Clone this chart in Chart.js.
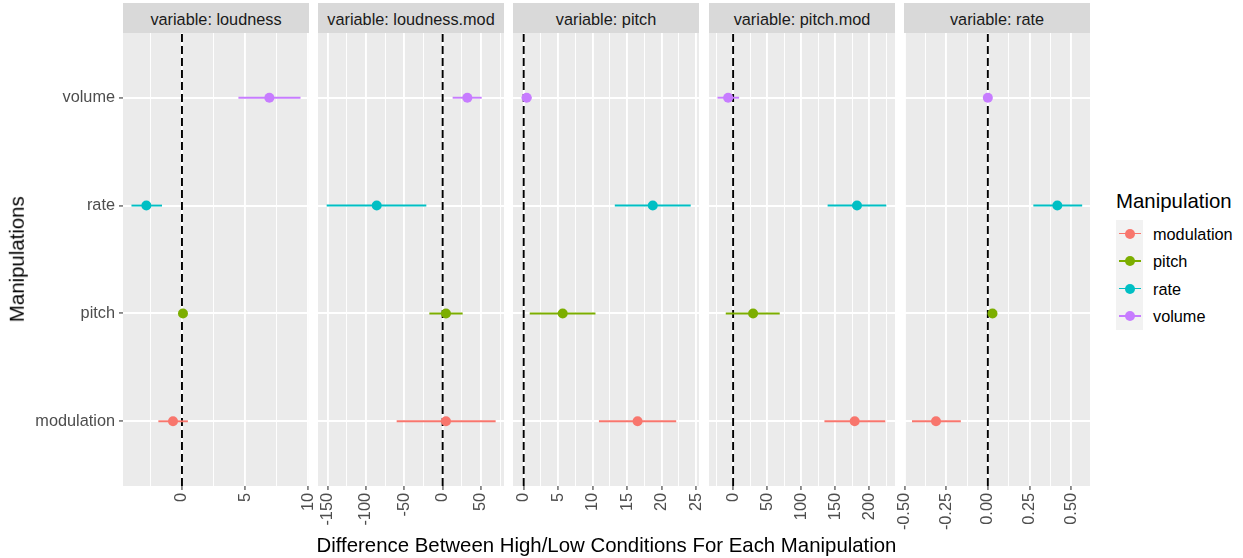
<!DOCTYPE html>
<html>
<head>
<meta charset="utf-8">
<script src="https://cdn.jsdelivr.net/npm/chart.js@4.4.1/dist/chart.umd.min.js"></script>
<style>
  body { margin: 0; background: #fff; font-family: "Liberation Sans", Arial, sans-serif; }
  #plot { position: relative; width: 1243px; height: 558px; overflow: hidden; }
  #plot canvas, .strip, .txt, .keys, .key-line, .key-dot { position: absolute; }
  .strip { top: 3px; height: 30px; background: #D9D9D9; color: #1A1A1A; font-size: 16.3px;
           line-height: 32.5px; text-align: center; white-space: nowrap; }
  .txt { white-space: nowrap; line-height: 1; }
  .keys { background: #F2F2F2; }
  .key-line { height: 1.9px; }
  .key-dot { width: 10px; height: 10px; border-radius: 50%; }
</style>
</head>
<body>
<div id="plot"></div>
<script>
const FUENTE = '"Liberation Sans", Arial, sans-serif';

// orden: modulation, pitch, rate, volume
const manipulations = ['modulation', 'pitch', 'rate', 'volume'];
const colores = ['#F8766D', '#7CAE00', '#00BFC4', '#C77CFF'];
const variables = ['loudness', 'loudness.mod', 'pitch', 'pitch.mod', 'rate'];

const loudnessEst  = [-0.71, 0.08, -2.82, 6.92];
const loudnessLow  = [-1.87, -0.1, -4.0, 4.47];
const loudnessHigh = [0.47, 0.25, -1.58, 9.39];

const loudnessModEst  = [4.3, 4.3, -86, 32.2];
const loudnessModLow  = [-60, -17.4, -151.3, 13];
const loudnessModHigh = [69.1, 26.1, -21.3, 50.9];

const pitchEst  = [16.5, 5.65, 18.7, 0.43];
const pitchLow  = [10.9, 0.87, 13.2, -0.3];
const pitchHigh = [22.1, 10.4, 24.2, 1.15];

const pitchModEst  = [178.4, 29.3, 181.8, -7.3];
const pitchModLow  = [134, -10.8, 138.7, -23];
const pitchModHigh = [223.4, 68.4, 224.8, 8.8];

const rateEst  = [-0.311, 0.028, 0.417, 0.0];
const rateLow  = [-0.455, 0.01, 0.273, -0.02];
const rateHigh = [-0.162, 0.045, 0.566, 0.02];

const loudnessTicks = [0, 5, 10];
const loudnessTickLabels = ['0', '5', '10'];
const loudnessModTicks = [-150, -100, -50, 0, 50];
const loudnessModTickLabels = ['-150', '-100', '-50', '0', '50'];
const pitchTicks = [0, 5, 10, 15, 20, 25];
const pitchTickLabels = ['0', '5', '10', '15', '20', '25'];
const pitchModTicks = [0, 50, 100, 150, 200];
const pitchModTickLabels = ['0', '50', '100', '150', '200'];
const rateTicks = [-0.5, -0.25, 0, 0.25, 0.5];
const rateTickLabels = ['-0.50', '-0.25', '0.00', '0.25', '0.50'];

// limites de cada eje x
const loudnessRange = [-4.67, 10.06];
const loudnessModRange = [-162.6, 80];
const pitchRange = [-1.55, 25.4];
const pitchModRange = [-35.4, 237.6];
const rateRange = [-0.503, 0.613];

const paneles = [
    { est: loudnessEst, low: loudnessLow, high: loudnessHigh, ticks: loudnessTicks, labels: loudnessTickLabels, rango: loudnessRange },
    { est: loudnessModEst, low: loudnessModLow, high: loudnessModHigh, ticks: loudnessModTicks, labels: loudnessModTickLabels, rango: loudnessModRange },
    { est: pitchEst, low: pitchLow, high: pitchHigh, ticks: pitchTicks, labels: pitchTickLabels, rango: pitchRange },
    { est: pitchModEst, low: pitchModLow, high: pitchModHigh, ticks: pitchModTicks, labels: pitchModTickLabels, rango: pitchModRange },
    { est: rateEst, low: rateLow, high: rateHigh, ticks: rateTicks, labels: rateTickLabels, rango: rateRange }
];

const panelLeft = [123, 318, 513, 709, 904];
const PANEL_W = 186;
const PANEL_TOP = 33;
const PANEL_H = 453;
const AXIS_H = 70;
const MARGEN = 12;
const Y_MIN = 0.4;
const Y_MAX = 4.6;

const plot = document.getElementById('plot');

const fondoPanel = {
    id: 'fondoPanel',
    beforeDraw(chart) {
        const a = chart.chartArea;
        chart.ctx.save();
        chart.ctx.fillStyle = '#EBEBEB';
        chart.ctx.fillRect(a.left, a.top, a.right - a.left, a.bottom - a.top);
        chart.ctx.restore();
    }
};

function agregarTexto(texto, estilo) {
    const d = document.createElement('div');
    d.className = 'txt';
    d.textContent = texto;
    d.style.cssText += estilo;
    plot.appendChild(d);
    return d;
}

function crearPanel(p, idx) {
    const primero = idx === 0;
    const izq = primero ? 0 : panelLeft[idx] - MARGEN;
    const ancho = primero ? panelLeft[idx] + PANEL_W + MARGEN : PANEL_W + 2 * MARGEN;

    const strip = document.createElement('div');
    strip.className = 'strip';
    strip.style.left = panelLeft[idx] + 'px';
    strip.style.width = PANEL_W + 'px';
    strip.textContent = 'variable: ' + variables[idx];
    plot.appendChild(strip);

    const canvas = document.createElement('canvas');
    canvas.width = ancho;
    canvas.height = PANEL_H + AXIS_H;
    canvas.style.left = izq + 'px';
    canvas.style.top = PANEL_TOP + 'px';
    plot.appendChild(canvas);

    const datasets = [{
        data: [{ x: 0, y: Y_MIN }, { x: 0, y: Y_MAX }],
        showLine: true, borderColor: '#000', borderWidth: 1.9, borderDash: [8, 4],
        pointRadius: 0, order: 3
    }];
    manipulations.forEach((m, i) => {
        datasets.push({
            data: [{ x: p.low[i], y: i + 1 }, { x: p.high[i], y: i + 1 }],
            showLine: true, borderColor: colores[i], borderWidth: 1.9, pointRadius: 0, order: 2
        });
        datasets.push({
            data: [{ x: p.est[i], y: i + 1 }],
            pointRadius: 5, pointBackgroundColor: colores[i], pointBorderWidth: 0, order: 1
        });
    });

    // cortes mayores + menores (a mitad de paso)
    const paso = p.ticks[1] - p.ticks[0];
    const valores = p.ticks.slice();
    for (let k = -1; k < p.ticks.length; k++) {
        const v = p.ticks[0] + (k + 0.5) * paso;
        if (v >= p.rango[0] && v <= p.rango[1]) valores.push(v);
    }
    valores.sort((a, b) => a - b);
    const esMayor = (c) => c.tick && p.ticks.indexOf(c.tick.value) >= 0;

    new Chart(canvas, {
        type: 'scatter',
        data: { datasets },
        plugins: [fondoPanel],
        options: {
            responsive: false,
            animation: false,
            events: [],
            layout: { padding: { left: primero ? 0 : MARGEN, right: MARGEN, top: 0, bottom: 0 }, autoPadding: false },
            plugins: { legend: { display: false }, tooltip: { enabled: false } },
            scales: {
                x: {
                    type: 'linear', min: p.rango[0], max: p.rango[1],
                    border: { display: false },
                    grid: {
                        color: '#FFFFFF',
                        lineWidth: c => esMayor(c) ? 1.9 : 0.95,
                        tickLength: 4,
                        tickColor: c => esMayor(c) ? '#333333' : 'rgba(0,0,0,0)',
                        tickWidth: 1.07
                    },
                    ticks: {
                        autoSkip: false, minRotation: 90, maxRotation: 90, padding: 3,
                        color: '#4D4D4D', font: { family: FUENTE, size: 16.3 },
                        callback: (v) => {
                            const j = p.ticks.indexOf(v);
                            return j >= 0 ? p.labels[j] : '';
                        }
                    },
                    afterBuildTicks: s => { s.ticks = valores.map(v => ({ value: v })); },
                    afterFit: s => { s.height = AXIS_H; s.paddingLeft = 0; s.paddingRight = 0; }
                },
                y: {
                    type: 'linear', min: Y_MIN, max: Y_MAX,
                    border: { display: false },
                    grid: {
                        color: '#FFFFFF', lineWidth: 1.9,
                        drawTicks: primero, tickLength: primero ? 4 : 0,
                        tickColor: '#333333', tickWidth: 1.07
                    },
                    ticks: {
                        display: primero, padding: 4,
                        color: '#4D4D4D', font: { family: FUENTE, size: 16.3 },
                        callback: v => manipulations[v - 1]
                    },
                    afterBuildTicks: s => { s.ticks = manipulations.map((m, i) => ({ value: i + 1 })); },
                    afterFit: s => { s.width = primero ? panelLeft[0] : 0; s.paddingTop = 0; s.paddingBottom = 0; }
                }
            }
        }
    });
}

paneles.forEach(crearPanel);

// titulos de ejes
agregarTexto('Difference Between High/Low Conditions For Each Manipulation',
    'left:' + (panelLeft[0] - 200) + 'px; width:' + (panelLeft[4] + PANEL_W - panelLeft[0] + 400) +
    'px; text-align:center; top:534.7px; font-size:20.4px; color:#000;');
agregarTexto('Manipulations',
    'left:' + (17.4 - 100) + 'px; width:200px; top:' + (259.5 - 10.2) + 'px; text-align:center;' +
    'font-size:20.4px; color:#000; transform:rotate(-90deg);');

// leyenda
agregarTexto('Manipulation', 'left:1116px; top:190.7px; font-size:20.4px; color:#000;');
const cajas = document.createElement('div');
cajas.className = 'keys';
cajas.style.cssText = 'left:1116px; top:220px; width:27px; height:110px;';
plot.appendChild(cajas);
manipulations.forEach((m, i) => {
    const cy = 233.5 + i * 27.5;
    const linea = document.createElement('div');
    linea.className = 'key-line';
    linea.style.cssText = 'left:1119px; width:22px; top:' + (cy - 0.95) + 'px; background:' + colores[i] + ';';
    plot.appendChild(linea);
    const punto = document.createElement('div');
    punto.className = 'key-dot';
    punto.style.cssText = 'left:1125px; top:' + (cy - 5) + 'px; background:' + colores[i] + ';';
    plot.appendChild(punto);
    agregarTexto(m, 'left:1153px; top:' + (cy - 7.8) + 'px; font-size:16.3px; color:#000;');
});
</script>
</body>
</html>
